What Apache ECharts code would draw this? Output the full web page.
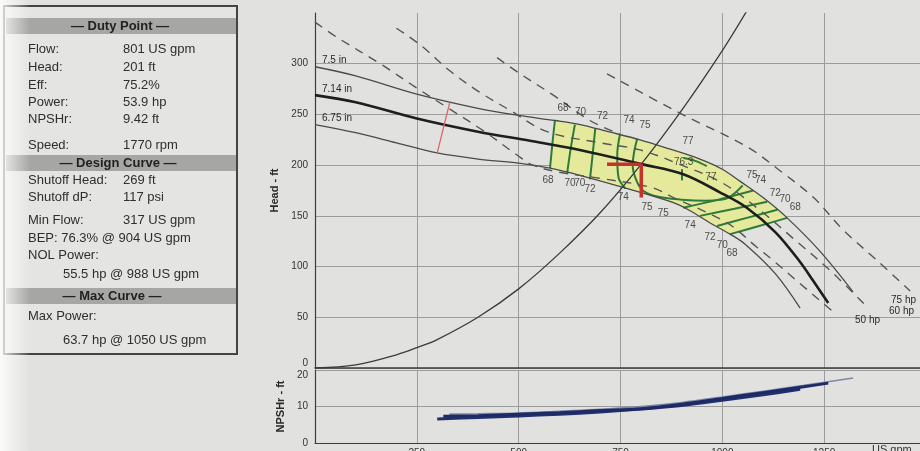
<!DOCTYPE html>
<html>
<head>
<meta charset="utf-8">
<script src="https://cdn.jsdelivr.net/npm/echarts@6.0.0/dist/echarts.min.js"></script>
<style>
  html, body { margin: 0; padding: 0; background: #e1e1df; }
  #pumpChart { width: 920px; height: 451px; }
</style>
</head>
<body>
<div id="pumpChart"></div>
<script>
// impeller curves (flow US gpm, head ft)
var curve750 = [[0,297],[100,288],[250,270],[400,256],[500,249],[589,244],[651,240],[720,233],[798,225],[870,216],[945,206],[1000,196],[1044,184],[1100,168],[1159,148],[1240,115],[1321,75]];
var curve714 = [[0,269],[100,262],[250,246],[400,233],[528,224],[650,215],[801,201],[904,191],[995,173],[1060,158],[1130,134],[1190,105],[1223,86],[1260,64]];
var curve675 = [[0,240],[100,232],[200,222],[300,212],[400,206],[500,202],[577,197],[650,190],[757,178],[880,163],[921,155],[970,143],[1019,132],[1056,122],[1130,93],[1191,59]];

// system curve
var systemCurve = [[0,0],[100,3],[200,13],[250,20],[300,28],[400,50],[500,78],[600,113],[700,153],[801,201],[900,254],[1000,313],[1060,352]];

// power lines (dashed)
var power50 = [[0,341],[54,326],[160,300],[250,276],[324,257],[413,234],[496,210],[535,200],[600,193],[700,187],[826,178],[880,168],[1012,143],[1085,119],[1125,106],[1174,89],[1273,55]];
var power60 = [[200,335],[260,318],[331,293],[400,273],[479,254],[570,233],[700,222],[798,215],[900,200],[1002,182],[1100,153],[1179,126],[1265,96],[1356,60]];
var powerMid = [[447,306],[500,291],[585,269],[675,244],[740,232]];
var power75 = [[717,290],[897,251],[1061,218],[1140,195],[1224,168],[1297,136],[1380,106],[1461,76]];

// efficiency contours
var eff68L = [[589,244],[583,222],[577,197]];
var eff70L = [[638,240],[628,217],[619,192]];
var eff72L = [[688,236],[682,212],[675,186]];
var eff74L = [[749,231],[742,210],[745,188],[762,177]];
var eff75 = [[791,226],[783,212],[780,200],[788,186],[805,175],[840,169],[900,166],[960,165],[1010,167],[1035,174],[1050,180]];
var eff74R = [[904,158],[990,166],[1076,175]];
var eff72R = [[945,150],[1030,157],[1110,164]];
var eff70R = [[987,140],[1060,148],[1135,156]];
var eff68R = [[1019,132],[1090,140],[1159,148]];
var eff77 = [[905,207],[935,204],[962,199]];
var bepMark = [[901,196],[901,185]];
var effLabels = [
  [609,256,'68'],[652,252,'70'],[706,248,'72'],[771,244,'74'],[810,239,'75'],
  [916,224,'77'],[905,203,'76.3'],[972,188,'77'],
  [1073,190,'75'],[1094,185,'74'],[1130,172,'72'],[1154,166,'70'],[1179,158,'68'],
  [572,185,'68'],[626,182,'70'],[650,182,'70'],[675,176,'72'],[757,168,'74'],[815,158,'75'],[855,153,'75'],
  [921,141,'74'],[970,129,'72'],[1000,121,'70'],[1024,113,'68']
];

// yellow band = 7.5 in between the 68% lines, back along 6.75 in
var bandTop = [[589,244],[651,240],[720,233],[798,225],[870,216],[945,206],[1000,196],[1044,184],[1100,168],[1159,148]];
var bandBottom = [[1019,132],[970,143],[921,155],[880,163],[757,178],[650,190],[577,197]];

// duty point and min flow marks
var dutyH = [[717,201],[801,201]];
var dutyV = [[801,201],[801,168]];
var minFlowLine = [[331,262],[300,212]];

// NPSHr curves
var npsh675 = [[300,6.6],[400,7.0],[500,7.4],[600,7.9],[700,8.5],[800,9.3],[900,10.3],[1000,11.7],[1100,13.2],[1191,14.7]];
var npsh714 = [[315,7.3],[400,7.5],[500,7.9],[600,8.3],[700,8.9],[801,9.4],[900,10.6],[1000,12.2],[1100,13.8],[1200,15.4],[1260,16.4]];
var npsh750 = [[330,7.9],[400,8.0],[500,8.2],[600,8.7],[700,9.2],[800,10.0],[900,11.1],[1000,12.6],[1100,14.2],[1200,15.8],[1321,17.8]];

// info panel
var dutyRows = [['Flow:','801 US gpm',49],['Head:','201 ft',67],['Eff:','75.2%',85],['Power:','53.9 hp',102],['NPSHr:','9.42 ft',119],['Speed:','1770 rpm',145]];
var designRows = [['Shutoff Head:','269 ft',180],['Shutoff dP:','117 psi',197],['Min Flow:','317 US gpm',220]];
var freeRows = [['BEP: 76.3% @ 904 US gpm',28,238],['NOL Power:',28,255],['55.5 hp @ 988 US gpm',63,274],['Max Power:',28,316],['63.7 hp @ 1050 US gpm',63,340]];

var chart = echarts.init(document.getElementById('pumpChart'));

function curve(data, color, width, type, z, xi) {
  return {
    type: 'line',
    xAxisIndex: xi || 0,
    yAxisIndex: xi || 0,
    data: data,
    showSymbol: false,
    smooth: 0.35,
    silent: true,
    z: z,
    lineStyle: { color: color, width: width, type: type || 'solid' }
  };
}

var series = [];

// yellow area
series.push({
  type: 'custom',
  xAxisIndex: 0,
  yAxisIndex: 0,
  silent: true,
  z: 1,
  data: [[0, 0]],
  renderItem: function (params, api) {
    var pts = bandTop.concat(bandBottom).map(function (p) { return api.coord(p); });
    return { type: 'polygon', shape: { points: pts }, style: { fill: '#e4e99c' } };
  }
});

[eff68L, eff70L, eff72L, eff74L, eff75, eff74R, eff72R, eff70R, eff68R, eff77, bepMark].forEach(function (d) {
  series.push(curve(d, '#2f7a3a', 2, 'solid', 2));
});

series.push(curve(curve750, '#4a4a4a', 1.3, 'solid', 4));
series.push(curve(curve714, '#1e1e1e', 2.6, 'solid', 4));
series.push(curve(curve675, '#4a4a4a', 1.3, 'solid', 4));
series.push(curve(systemCurve, '#3a3a3a', 1.3, 'solid', 4));
[power50, power60, powerMid, power75].forEach(function (d) {
  series.push(curve(d, '#555555', 1.4, [9, 7], 4));
});
series.push(curve(minFlowLine, '#e0606a', 1.2, 'solid', 5));
var dh = curve(dutyH, '#c8302a', 3.5, 'solid', 6); dh.smooth = false; series.push(dh);
var dv = curve(dutyV, '#c8302a', 3.5, 'solid', 6); dv.smooth = false; series.push(dv);

// efficiency labels
series.push({
  type: 'scatter',
  xAxisIndex: 0,
  yAxisIndex: 0,
  silent: true,
  z: 7,
  symbolSize: 1,
  itemStyle: { color: 'rgba(0,0,0,0)' },
  data: effLabels.map(function (l) { return { value: [l[0], l[1]], name: l[2] }; }),
  label: {
    show: true,
    position: 'inside',
    formatter: '{b}',
    fontSize: 10,
    fontFamily: 'Liberation Sans',
    color: '#262626'
  }
});

// NPSHr
series.push(curve(npsh750, '#7f86a8', 1.6, 'solid', 3, 1));
series.push(curve(npsh675, '#24306c', 3, 'solid', 4, 1));
series.push(curve(npsh714, '#1d2a66', 3, 'solid', 4, 1));

var gridGrey = '#9c9c9c';
var axisDark = '#3c3c3c';
var txt = { fontFamily: 'Liberation Sans', fontSize: 10, color: '#333' };

function panelText(text, x, y, bold) {
  return {
    type: 'text',
    z: 20,
    style: {
      text: text, x: x, y: y,
      fill: '#2e2e2e',
      font: (bold ? 'bold ' : '') + '13px "Liberation Sans"',
      verticalAlign: 'middle'
    }
  };
}

var graphics = [
  { type: 'rect', z: 10, shape: { x: 4, y: 6, width: 233, height: 348 }, style: { fill: '#e4e4e2', stroke: '#444', lineWidth: 2 } },
  { type: 'rect', z: 11, shape: { x: 6, y: 18, width: 230, height: 16 }, style: { fill: '#a6a6a4' } },
  { type: 'rect', z: 11, shape: { x: 6, y: 155, width: 230, height: 16 }, style: { fill: '#a6a6a4' } },
  { type: 'rect', z: 11, shape: { x: 6, y: 288, width: 230, height: 16 }, style: { fill: '#a6a6a4' } },
  { type: 'text', z: 20, style: { text: '— Duty Point —', x: 120, y: 26, align: 'center', verticalAlign: 'middle', fill: '#222', font: 'bold 13px "Liberation Sans"' } },
  { type: 'text', z: 20, style: { text: '— Design Curve —', x: 118, y: 163, align: 'center', verticalAlign: 'middle', fill: '#222', font: 'bold 13px "Liberation Sans"' } },
  { type: 'text', z: 20, style: { text: '— Max Curve —', x: 112, y: 296, align: 'center', verticalAlign: 'middle', fill: '#222', font: 'bold 13px "Liberation Sans"' } }
];
dutyRows.concat(designRows).forEach(function (r) {
  graphics.push(panelText(r[0], 28, r[2]));
  graphics.push(panelText(r[1], 123, r[2]));
});
freeRows.forEach(function (r) {
  graphics.push(panelText(r[0], r[1], r[2]));
});
// curve and power labels
[['7.5 in', 322, 60], ['7.14 in', 322, 89], ['6.75 in', 322, 118]].forEach(function (l) {
  graphics.push({ type: 'text', z: 20, style: { text: l[0], x: l[1], y: l[2], verticalAlign: 'middle', fill: '#2a2a2a', font: '10px "Liberation Sans"' } });
});
[['75 hp', 916, 300], ['60 hp', 914, 311], ['50 hp', 880, 320]].forEach(function (l) {
  graphics.push({ type: 'text', z: 20, style: { text: l[0], x: l[1], y: l[2], align: 'right', verticalAlign: 'middle', fill: '#2a2a2a', font: '10px "Liberation Sans"' } });
});
graphics.push({ type: 'text', z: 20, style: { text: 'US gpm', x: 872, y: 450, verticalAlign: 'middle', fill: '#333', font: '11px "Liberation Sans"' } });
// photo fade on the left edge
graphics.push({
  type: 'rect', z: 30, silent: true,
  shape: { x: 0, y: 0, width: 30, height: 451 },
  style: { fill: new echarts.graphic.LinearGradient(0, 0, 1, 0, [{ offset: 0, color: 'rgba(255,255,255,0.85)' }, { offset: 1, color: 'rgba(255,255,255,0)' }]) }
});

var option = {
  backgroundColor: '#e1e1df',
  animation: false,
  grid: [
    { left: 315, top: 13, width: 611, height: 355, outerBoundsMode: 'none' },
    { left: 315, top: 370, width: 611, height: 73, outerBoundsMode: 'none' }
  ],
  xAxis: [
    {
      gridIndex: 0, type: 'value', min: 0, max: 1500, interval: 250,
      axisLine: { show: true, lineStyle: { color: axisDark, width: 1.5 } },
      axisTick: { show: false },
      axisLabel: { show: false },
      splitLine: { show: true, lineStyle: { color: gridGrey, width: 1 } }
    },
    {
      gridIndex: 1, type: 'value', min: 0, max: 1500, interval: 250,
      axisLine: { show: true, lineStyle: { color: axisDark, width: 1.2 } },
      axisTick: { show: false },
      axisLabel: Object.assign({
        margin: 5, showMaxLabel: false, showMinLabel: false,
        formatter: function (v) { return String(v); }
      }, txt),
      splitLine: { show: true, lineStyle: { color: gridGrey, width: 1 } }
    }
  ],
  yAxis: [
    {
      gridIndex: 0, type: 'value', min: 0, max: 350, interval: 50,
      name: 'Head - ft', nameLocation: 'middle', nameGap: 28, nameRotate: 90,
      nameTextStyle: { fontFamily: 'Liberation Sans', fontSize: 11, fontWeight: 'bold', color: '#2a2a2a' },
      axisLine: { show: true, lineStyle: { color: axisDark, width: 1.2 } },
      axisTick: { show: false },
      axisLabel: Object.assign({
        margin: 7, showMaxLabel: false,
        formatter: function (v) { return v === 0 ? '{lift|0}' : String(v); },
        rich: { lift: { fontFamily: 'Liberation Sans', fontSize: 10, color: '#333', padding: [0, 0, 10, 0] } }
      }, txt),
      splitLine: { show: true, showMaxLine: false, lineStyle: { color: gridGrey, width: 1 } }
    },
    {
      gridIndex: 1, type: 'value', min: 0, max: 20, interval: 10,
      name: 'NPSHr - ft', nameLocation: 'middle', nameGap: 28, nameRotate: 90,
      nameTextStyle: { fontFamily: 'Liberation Sans', fontSize: 11, fontWeight: 'bold', color: '#2a2a2a' },
      axisLine: { show: true, lineStyle: { color: axisDark, width: 1.2 } },
      axisTick: { show: false },
      axisLabel: Object.assign({
        margin: 7,
        formatter: function (v) { return v === 20 ? '{drop|20}' : String(v); },
        rich: { drop: { fontFamily: 'Liberation Sans', fontSize: 10, color: '#333', padding: [10, 0, 0, 0] } }
      }, txt),
      splitLine: { show: true, lineStyle: { color: gridGrey, width: 1 } }
    }
  ],
  graphic: graphics,
  series: series
};

chart.setOption(option);
</script>
</body>
</html>
